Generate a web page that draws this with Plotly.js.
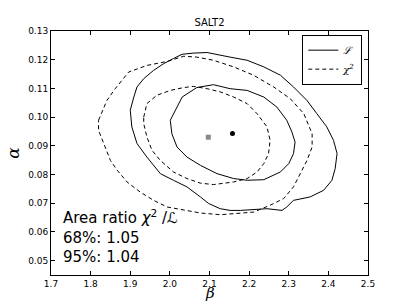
<!DOCTYPE html>
<html><head><meta charset="utf-8">
<script src="https://cdn.plot.ly/plotly-3.0.1.min.js"></script>
<style>html,body{margin:0;padding:0;background:#fff}</style>
</head><body><div id="chart" style="width:407px;height:305px"></div>
<script>
// 68% likelihood contour (solid)
const L68_beta  = [2.001,2.031,2.068,2.110,2.152,2.195,2.237,2.270,2.295,2.308,2.316,2.312,2.300,2.279,2.237,2.195,2.161,2.119,2.077,2.043,2.018,2.005,2.001];
const L68_alpha = [0.0989,0.1070,0.1103,0.1113,0.1099,0.1093,0.1070,0.1035,0.0989,0.0948,0.0913,0.0873,0.0838,0.0809,0.0782,0.0780,0.0786,0.0803,0.0832,0.0861,0.0896,0.0942,0.0989];
// 95% likelihood contour (solid)
const L95_beta  = [1.909,1.900,1.904,1.917,1.942,1.976,2.009,2.043,2.077,2.098,2.127,2.152,2.178,2.211,2.245,2.283,2.295,2.312,2.354,2.388,2.409,2.417,2.422,2.413,2.396,2.371,2.346,2.312,2.279,2.237,2.195,2.152,2.119,2.094,2.060,2.031,2.009,1.984,1.959,1.934,1.917,1.909];
const L95_alpha = [0.1070,0.1024,0.0966,0.0908,0.0861,0.0803,0.0780,0.0757,0.0722,0.0699,0.0681,0.0675,0.0675,0.0678,0.0681,0.0675,0.0687,0.0710,0.0722,0.0745,0.0780,0.0820,0.0873,0.0919,0.0966,0.1012,0.1058,0.1105,0.1146,0.1175,0.1198,0.1209,0.1219,0.1225,0.1223,0.1219,0.1204,0.1186,0.1163,0.1134,0.1105,0.1070];
// 68% chi2 contour (dashed)
const C68_beta  = [1.934,1.942,1.967,2.001,2.035,2.060,2.094,2.127,2.161,2.195,2.220,2.245,2.253,2.249,2.237,2.220,2.195,2.161,2.110,2.077,2.043,2.009,1.976,1.955,1.942,1.934,1.934];
const C68_alpha = [0.1000,0.1047,0.1076,0.1093,0.1103,0.1107,0.1099,0.1088,0.1070,0.1047,0.1012,0.0966,0.0919,0.0873,0.0838,0.0809,0.0786,0.0774,0.0765,0.0770,0.0786,0.0809,0.0849,0.0884,0.0931,0.0977,0.1000];
// 95% chi2 contour (dashed)
const C95_beta  = [1.820,1.841,1.862,1.896,1.942,1.993,2.035,2.068,2.110,2.161,2.211,2.262,2.304,2.338,2.359,2.359,2.346,2.329,2.312,2.287,2.253,2.211,2.161,2.127,2.077,2.043,1.993,1.959,1.925,1.892,1.867,1.850,1.833,1.820,1.820];
const C95_alpha = [0.0989,0.1058,0.1099,0.1157,0.1180,0.1194,0.1212,0.1209,0.1198,0.1175,0.1146,0.1105,0.1064,0.1012,0.0942,0.0896,0.0849,0.0803,0.0757,0.0716,0.0693,0.0669,0.0664,0.0660,0.0666,0.0675,0.0687,0.0710,0.0739,0.0774,0.0815,0.0849,0.0908,0.0954,0.0989];
// best-fit points
const bestL_beta = [2.158], bestL_alpha = [0.0943];
const bestC_beta = [2.097], bestC_alpha = [0.0930];
const xTicks = [1.7,1.8,1.9,2.0,2.1,2.2,2.3,2.4,2.5];
const yTicks = [0.05,0.06,0.07,0.08,0.09,0.10,0.11,0.12,0.13];

const solid = {color:'#000', width:1};
const dashed = {color:'#000', width:1, dash:'4px,3px'};
const data = [
  {x:L68_beta, y:L68_alpha, mode:'lines', line:solid, name:'ℒ', showlegend:true},
  {x:L95_beta, y:L95_alpha, mode:'lines', line:solid, showlegend:false},
  {x:C68_beta, y:C68_alpha, mode:'lines', line:dashed, name:'χ<sup>2</sup>', showlegend:true},
  {x:C95_beta, y:C95_alpha, mode:'lines', line:dashed, showlegend:false},
  {x:bestC_beta, y:bestC_alpha, mode:'markers', marker:{symbol:'square', size:5, color:'#888'}, showlegend:false},
  {x:bestL_beta, y:bestL_alpha, mode:'markers', marker:{symbol:'circle', size:5, color:'#000'}, showlegend:false}
];
const axisCommon = {showgrid:false, zeroline:false, showline:true, linecolor:'#000', linewidth:1, mirror:'allticks',
  ticks:'inside', ticklen:4, tickcolor:'#000', tickfont:{family:'DejaVu Sans', size:9, color:'#000'}};
const layout = {
  width:407, height:305,
  margin:{l:51, r:39, t:31, b:30},
  paper_bgcolor:'#fff', plot_bgcolor:'#fff',
  title:{text:'SALT2', font:{family:'DejaVu Sans', size:10, color:'#000'}, x:0.5, xref:'paper', y:0.925, yanchor:'middle'},
  xaxis:Object.assign({}, axisCommon, {range:[1.7,2.5], tickvals:xTicks, ticktext:xTicks.map(v=>v.toFixed(1))}),
  yaxis:Object.assign({}, axisCommon, {range:[0.045,0.13], tickvals:yTicks, ticktext:yTicks.map(v=>v.toFixed(2)),
    title:{text:'α', font:{family:'DejaVu Serif', size:17, style:'italic', color:'#000'}, standoff:4}}),
  showlegend:true,
  legend:{x:0.982, y:0.985, xanchor:'right', yanchor:'top', bgcolor:'#fff', bordercolor:'#000', borderwidth:1,
    font:{family:'DejaVu Serif', size:10, color:'#000', style:'italic'}, tracegroupgap:0, itemwidth:30},
  annotations:[
    {xref:'paper', yref:'paper', x:0.03, y:0.285, xanchor:'left', yanchor:'top', showarrow:false, align:'left',
     text:'Area ratio <i>χ</i><sup>2</sup> /ℒ<br>68%: 1.05<br>95%: 1.04',
     font:{family:'DejaVu Sans', size:15, color:'#000'}},
    {xref:'paper', yref:'paper', x:0.5, y:-0.073, xanchor:'center', yanchor:'middle', showarrow:false,
     text:'β', font:{family:'DejaVu Serif', size:15, style:'italic', color:'#000'}}
  ]
};
Plotly.newPlot('chart', data, layout, {displayModeBar:false, staticPlot:true});
</script></body></html>
